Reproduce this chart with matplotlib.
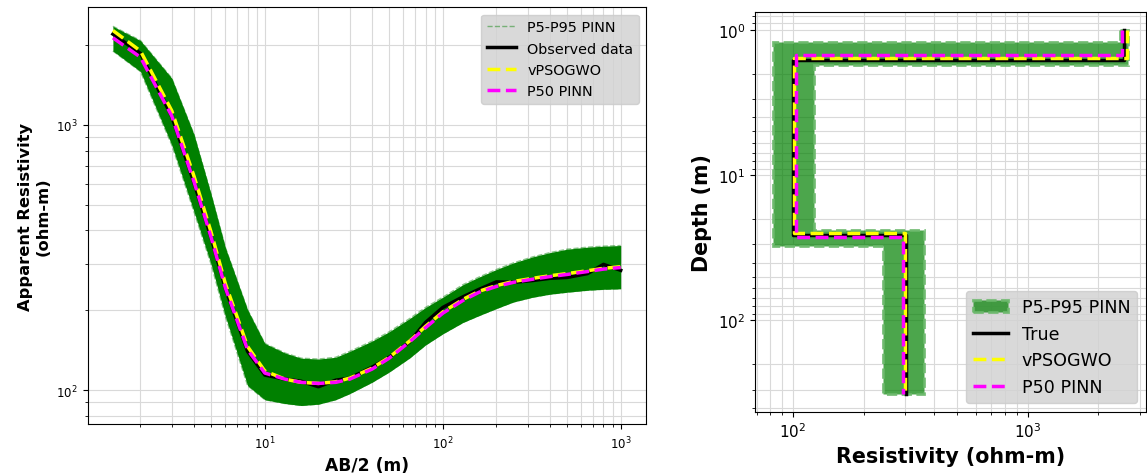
import numpy as np
import matplotlib
matplotlib.use("Agg")
import matplotlib.pyplot as plt
from matplotlib.ticker import NullFormatter

# --- left panel: apparent resistivity curves ---
ab2 = [1.4, 2, 3, 4, 5, 6, 8, 10, 13, 16, 20, 25, 30, 40, 50, 65, 80,
       100, 130, 160, 200, 250, 320, 400, 500, 650, 800, 1000]
rho_obs = [2200, 1860, 1075, 605, 374, 242, 140, 114, 110, 108, 103, 109, 111,
           122, 133, 152, 180, 205, 225, 240, 256, 255, 259, 264, 266, 275, 298, 283]
rho_vpso = [2270, 1900, 1130, 640, 392, 252, 146, 118, 110, 107, 106, 107.5, 111,
            121, 133, 153, 174, 197, 220, 236, 248, 257, 264, 270, 275, 282, 288, 292]
rho_p50 = [2130, 1800, 1080, 610, 375, 243, 142, 116, 110, 107, 106, 107, 110,
           120, 132, 152, 172, 195, 218, 234, 246, 255, 262, 268, 273, 280, 286, 290]
rho_p5 = [1900, 1590, 840, 470, 297, 190, 104, 92, 89, 87.5, 88.5, 92, 97,
          107, 117, 132, 148, 163, 180, 191, 203, 215, 224, 230, 234, 238, 240, 241]
rho_p95 = [2355, 2080, 1500, 920, 545, 345, 201, 150, 138, 132, 131, 133, 140,
           153, 166, 186, 205, 224, 250, 267, 285, 302, 318, 330, 340, 346, 349, 351]

# --- right panel: layered models (resistivity per layer, interface depths) ---
depth_top = 1.0
depth_bottom = 320
true_res = [2560, 100, 303]
true_iface = [1.6, 25.8]
vpso_res = [2640, 101, 300]
vpso_iface = [1.56, 25.1]
p50_res = [2510, 103, 295]
p50_iface = [1.5, 26.7]
p5_res = [2480, 82, 241]
p5_iface = [1.215, 30.6]
p95_res = [2680, 123, 362]
p95_iface = [1.75, 23.8]


def step_profile(res, iface):
    d = [depth_top] + list(iface) + [depth_bottom]
    x = np.repeat(res, 2)
    y = np.array([d[0]] + [v for v in d[1:-1] for _ in range(2)] + [d[-1]])
    return x, y


fig = plt.figure(figsize=(11.47, 4.77), dpi=100)

# left
ax1 = fig.add_axes([0.0763, 0.108, 0.487, 0.8746])
ax1.fill_between(ab2, rho_p5, rho_p95, color="green", lw=0, zorder=2)
ax1.plot(ab2, rho_p5, "--", color="green", lw=1, alpha=0.45, label="P5-P95 PINN", zorder=2)
ax1.plot(ab2, rho_p95, "--", color="green", lw=1, alpha=0.45, zorder=2)
ax1.plot(ab2, rho_obs, color="black", lw=2.5, label="Observed data", zorder=3)
ax1.plot(ab2, rho_vpso, "--", color="yellow", lw=2.5, label="vPSOGWO", zorder=4)
ax1.plot(ab2, rho_p50, "--", color="magenta", lw=2.5, label="P50 PINN", zorder=5)
ax1.set_xscale("log")
ax1.set_yscale("log")
ax1.grid(True, which="both", color="0.85", lw=0.8)
ax1.set_axisbelow(True)
ax1.xaxis.set_minor_formatter(NullFormatter())
ax1.yaxis.set_minor_formatter(NullFormatter())
ax1.tick_params(labelsize=8.5)
ax1.set_xlabel("AB/2 (m)", fontsize=12.3, fontweight="bold")
ax1.set_ylabel("Apparent Resistivity\n(ohm-m)", fontsize=11.7, fontweight="bold")
ax1.legend(loc="upper right", fontsize=10.4, facecolor="lightgray", framealpha=0.85)

# right
ax2 = fig.add_axes([0.6582, 0.1342, 0.3409, 0.8392])
x5, y5 = step_profile(p5_res, p5_iface)
x95, y95 = step_profile(p95_res, p95_iface)
band = ax2.fill(np.r_[x5, x95[::-1]], np.r_[y5, y95[::-1]],
                facecolor=(0.0, 0.5, 0.0, 0.7), edgecolor=(0.42, 0.72, 0.42, 0.9),
                ls="--", lw=2, label="P5-P95 PINN", zorder=2)[0]
xt, yt = step_profile(true_res, true_iface)
l_true, = ax2.plot(xt, yt, color="black", lw=2.5, label="True", zorder=3)
xv, yv = step_profile(vpso_res, vpso_iface)
l_vpso, = ax2.plot(xv, yv, "--", color="yellow", lw=2.5, label="vPSOGWO", zorder=4)
xp, yp = step_profile(p50_res, p50_iface)
l_p50, = ax2.plot(xp, yp, "--", color="magenta", lw=2.5, label="P50 PINN", zorder=5)
ax2.set_xscale("log")
ax2.set_yscale("log")
ax2.invert_yaxis()
ax2.grid(True, which="both", color="0.85", lw=0.8)
ax2.set_axisbelow(True)
ax2.xaxis.set_minor_formatter(NullFormatter())
ax2.yaxis.set_minor_formatter(NullFormatter())
ax2.tick_params(labelsize=11)
ax2.set_xlabel("Resistivity (ohm-m)", fontsize=14.9, fontweight="bold")
ax2.set_ylabel("Depth (m)", fontsize=14.9, fontweight="bold")
ax2.legend(handles=[band, l_true, l_vpso, l_p50], loc="lower right", fontsize=12.6,
           facecolor="lightgray", framealpha=0.85)

fig.savefig("out.png", dpi=100)
